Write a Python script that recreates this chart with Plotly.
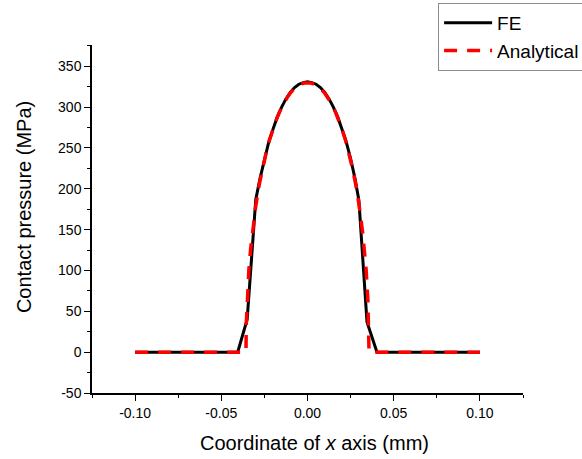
import plotly.graph_objects as go

# FE results (x in mm, pressure in MPa)
fe_x = [-0.100, -0.090, -0.080, -0.070, -0.060, -0.050, -0.0405, -0.0350, -0.0300,
        -0.0275, -0.0250, -0.0225, -0.0200, -0.0175, -0.0150, -0.0125, -0.0100,
        -0.0075, -0.0050, -0.0025, 0.0000, 0.0025, 0.0050, 0.0075, 0.0100, 0.0125,
        0.0150, 0.0175, 0.0200, 0.0225, 0.0250, 0.0275, 0.0298, 0.0345, 0.0403,
        0.050, 0.060, 0.070, 0.080, 0.090, 0.100]
fe_p = [0, 0, 0, 0, 0, 0, 0, 40, 187,
        213, 237, 257, 273, 288, 300, 310, 318,
        324, 328, 330, 331, 330, 328, 324, 318, 310,
        300, 288, 273, 257, 237, 213, 186, 37, 0,
        0, 0, 0, 0, 0, 0]

# Analytical (Hertz) solution
an_x = [-0.100, -0.080, -0.060, -0.040, -0.0357, -0.0355, -0.0350, -0.0340, -0.0330,
        -0.0320, -0.0300, -0.0280, -0.0260, -0.0240, -0.0220, -0.0200, -0.0180,
        -0.0160, -0.0140, -0.0120, -0.0100, -0.0080, -0.0060, -0.0040, -0.0020,
        0.0000, 0.0020, 0.0040, 0.0060, 0.0080, 0.0100, 0.0120, 0.0140, 0.0160,
        0.0180, 0.0200, 0.0220, 0.0240, 0.0260, 0.0280, 0.0300, 0.0320, 0.0330,
        0.0340, 0.0350, 0.0355, 0.0357, 0.040, 0.060, 0.080, 0.100]
an_p = [0, 0, 0, 0, 0, 35, 65, 101, 126,
        146, 179, 205, 226, 244, 260, 273, 285,
        295, 304, 311, 317, 322, 325, 328, 329.5,
        330, 329.5, 328, 325, 322, 317, 311, 304, 295,
        285, 273, 260, 244, 226, 205, 179, 146, 126,
        101, 65, 35, 0, 0, 0, 0, 0]

x_ticks = [-0.10, -0.05, 0.00, 0.05, 0.10]
x_ticklabels = ["-0.10", "-0.05", "0.00", "0.05", "0.10"]
y_ticks = [-50, 0, 50, 100, 150, 200, 250, 300, 350]
y_ticklabels = ["-50", "0", "50", "100", "150", "200", "250", "300", "350"]

FONT = "Arial, Liberation Sans, sans-serif"

fig = go.Figure()
fig.add_trace(go.Scatter(x=fe_x, y=fe_p, mode="lines", name="FE",
                         line=dict(color="black", width=3)))
fig.add_trace(go.Scatter(x=an_x, y=an_p, mode="lines", name="Analytical",
                         line=dict(color="#ff0000", width=3.5, dash="13px,10px")))

axis_common = dict(showline=True, linecolor="black", linewidth=1.5,
                   ticks="outside", tickcolor="black", ticklen=6, tickwidth=1.2,
                   showgrid=False, zeroline=False, mirror=False,
                   tickfont=dict(family=FONT, size=14, color="black"))

fig.update_layout(
    width=582, height=459,
    margin=dict(l=92, r=59, t=45, b=66, autoexpand=False),
    paper_bgcolor="white", plot_bgcolor="white",
    font=dict(family=FONT, color="black"),
    showlegend=True,
    legend=dict(x=0.803, y=1.121, xanchor="left", yanchor="top",
                bordercolor="#8c8c8c", borderwidth=1, bgcolor="white",
                font=dict(family=FONT, size=19, color="black"),
                itemwidth=48, tracegroupgap=0),
    xaxis=dict(range=[-0.125, 0.125], tickvals=x_ticks, ticktext=x_ticklabels,
               minor=dict(dtick=0.025, tick0=0, ticks="outside", ticklen=3, tickcolor="black"),
               **axis_common),
    yaxis=dict(range=[-50, 376], tickvals=y_ticks, ticktext=y_ticklabels,
               minor=dict(dtick=25, tick0=0, ticks="outside", ticklen=3, tickcolor="black"),
               **axis_common),
    annotations=[
        dict(text="Coordinate of <i>x</i> axis (mm)", xref="paper", yref="paper",
             x=0.517, y=-0.1437, xanchor="center", yanchor="middle", showarrow=False,
             font=dict(family=FONT, size=20, color="black")),
        dict(text="Contact pressure (MPa)", xref="paper", yref="paper",
             x=-0.158, y=0.534, xanchor="center", yanchor="middle", showarrow=False,
             textangle=-90, font=dict(family=FONT, size=20, color="black")),
    ],
)

fig.write_html("out.html")
